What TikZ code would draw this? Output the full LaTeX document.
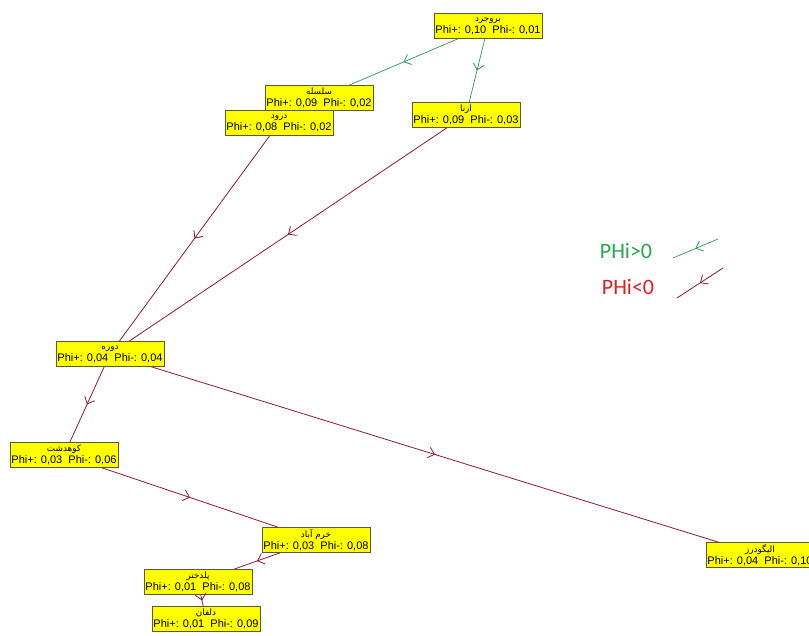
\documentclass[tikz,border=0pt]{standalone}
\usepackage{fontspec}
\setmainfont{Liberation Sans}
\newfontfamily\fa[Script=Arabic]{DejaVu Sans}
\newfontfamily\legendfont{Carlito}
\TeXXeTstate=1
\usetikzlibrary{arrows.meta,decorations.markings}
\definecolor{grn}{RGB}{45,150,85}
\definecolor{drd}{RGB}{140,25,50}
\definecolor{boxyel}{RGB}{255,255,0}
\definecolor{boxbd}{RGB}{90,90,50}
\definecolor{lgreen}{RGB}{40,165,80}
\definecolor{lred}{RGB}{220,30,40}
\newcommand{\cityb}[2]{{\fa\fontsize{8.8}{10}\selectfont\beginR #1\endR}\\{\fontsize{11}{11.5}\selectfont #2}}
\tikzset{
  city/.style={draw=boxbd, line width=0.6pt, fill=boxyel, minimum width=108pt, minimum height=25pt, inner sep=0pt, align=center},
  posedge/.style={draw=grn, line width=0.7pt, postaction={decorate},
    decoration={markings, mark=at position 0.5 with {\arrow[grn,line width=0.8pt]{Straight Barb[length=6pt,width=11pt]}}}},
  negedge/.style={draw=drd, line width=0.8pt, postaction={decorate},
    decoration={markings, mark=at position 0.5 with {\arrow[drd,line width=0.8pt]{Straight Barb[length=6pt,width=11pt]}}}},
  legtext/.style={font=\legendfont\fontsize{22}{24}\selectfont, inner sep=0pt}
}
\begin{document}
\begin{tikzpicture}[x=1pt,y=-1pt]
\useasboundingbox (0,0) rectangle (809,635);
\node[city] (bor) at (488,26) {\cityb{بروجرد}{Phi+: 0,10\ \ Phi-: 0,01}};
\node[city] (sel) at (319,98) {\cityb{سلسله}{Phi+: 0,09\ \ Phi-: 0,02}};
\node[city] (dor) at (279,123) {\cityb{درود}{Phi+: 0,08\ \ Phi-: 0,02}};
\node[city] (azn) at (466,115) {\cityb{ازنا}{Phi+: 0,09\ \ Phi-: 0,03}};
\node[city] (dwr) at (110,354) {\cityb{دوره}{Phi+: 0,04\ \ Phi-: 0,04}};
\node[city] (kuh) at (64,455) {\cityb{کوهدشت}{Phi+: 0,03\ \ Phi-: 0,06}};
\node[city] (khr) at (316,540) {\cityb{خرم آباد}{Phi+: 0,03\ \ Phi-: 0,08}};
\node[city] (pol) at (198,582) {\cityb{پلدختر}{Phi+: 0,01\ \ Phi-: 0,08}};
\node[city] (del) at (206,619) {\cityb{دلفان}{Phi+: 0,01\ \ Phi-: 0,09}};
\node[city] (ali) at (760,555) {\cityb{الیگودرز}{Phi+: 0,04\ \ Phi-: 0,10}};
% edges
\path[posedge] (bor) -- (sel);
\path[posedge] (bor) -- (azn);
\path[negedge] (dor) -- (dwr);
\path[negedge] (azn) -- (dwr);
\path[negedge] (dwr) -- (kuh);
\path[negedge] (dwr) -- (ali);
\path[negedge] (kuh) -- (khr);
\path[negedge] (khr) -- (pol);
\path[negedge] (pol) -- (del);
% legend
\node[legtext, text=lgreen] (lgpos) at (626,251) {PHi>0};
\node[legtext, text=lred] (lgneg) at (628,287) {PHi<0};
\coordinate (gp1) at (718,239);
\coordinate (gp2) at (673,258);
\coordinate (rn1) at (723,268);
\coordinate (rn2) at (677,298);
\path[posedge] (gp1) -- (gp2);
\path[negedge] (rn1) -- (rn2);
\end{tikzpicture}
\end{document}
